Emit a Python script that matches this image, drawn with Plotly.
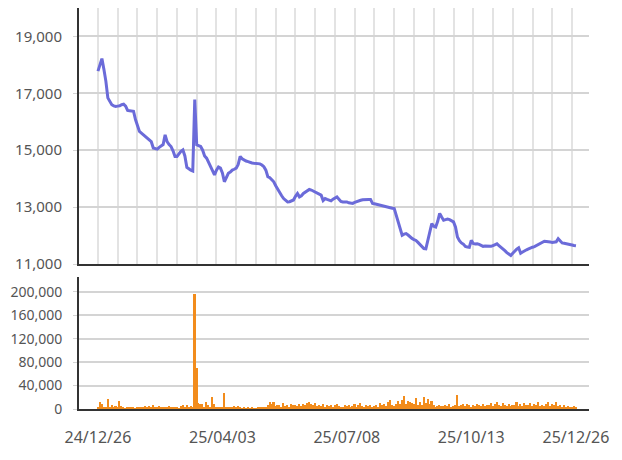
import plotly.graph_objects as go
from plotly.subplots import make_subplots

# Closing prices per trading day (index 0 = 24/12/26)
price = [
    17780, 18050, 18220, 17850, 17430, 16840, 16700, 16600, 16560, 16540,
    16550, 16560, 16600, 16620, 16550, 16400, 16390, 16380, 16370, 16080,
    15860, 15660, 15600, 15540, 15480, 15430, 15350, 15300, 15080, 15050,
    15040, 15100, 15150, 15200, 15540, 15300, 15200, 15130, 14980, 14780,
    14780, 14890, 14960, 15010, 14800, 14400, 14340, 14300, 14270, 16780,
    15190, 15160, 15130, 15000, 14800, 14720, 14560, 14420, 14300, 14130,
    14300, 14410, 14370, 14200, 13890, 14050, 14190, 14230, 14300, 14330,
    14370, 14500, 14780, 14700, 14650, 14620, 14600, 14570, 14550, 14540,
    14530, 14520, 14520, 14480, 14420, 14300, 14070, 14030, 13960, 13890,
    13750, 13620, 13480, 13400, 13300, 13230, 13180, 13190, 13230, 13250,
    13380, 13480, 13360, 13400, 13480, 13530, 13580, 13620, 13600, 13560,
    13520, 13480, 13460, 13420, 13230, 13300, 13270, 13250, 13220, 13280,
    13330, 13360, 13280, 13200, 13180, 13190, 13180, 13150, 13140, 13130,
    13170, 13200, 13220, 13240, 13260, 13270, 13280, 13270, 13270, 13130,
    13120, 13100, 13080, 13070, 13050, 13030, 13010, 12990, 12970, 12960,
    12950, 12720, 12420, 12200, 12010, 12050, 12070, 12020, 11950, 11900,
    11860, 11830, 11760, 11690, 11620, 11540, 11530, 11800, 12070, 12420,
    12330, 12300, 12500, 12780, 12650, 12540, 12560, 12580, 12560, 12520,
    12480, 12300, 11950, 11820, 11740, 11700, 11620, 11600, 11590, 11830,
    11720, 11700, 11710, 11690, 11650, 11620, 11630, 11620, 11610, 11620,
    11650, 11690, 11710, 11650, 11600, 11540, 11470, 11400, 11350, 11300,
    11380, 11470, 11520, 11570, 11380, 11420, 11470, 11500, 11530, 11570,
    11590, 11610, 11650, 11690, 11720, 11760, 11800, 11790, 11770, 11770,
    11760, 11770, 11780, 11890, 11820, 11740, 11730, 11720, 11710, 11690,
    11670, 11650, 11640,
]

volume = [
    3000, 12500, 9000, 2500, 3500, 16600, 4000, 7000, 2000, 5000,
    3500, 14000, 4500, 2000, 1500, 2500, 1800, 3000, 2200, 1500,
    2800, 4000, 2500, 3500, 5000, 2000, 4500, 3000, 6500, 2500,
    3500, 5000, 2500, 4000, 3000, 2000, 5500, 3000, 1800, 3500,
    2500, 1500, 4500, 6000, 3000, 7000, 2500, 5000, 4000, 196000,
    70000, 10500, 9000, 8500, 3000, 12000, 6000, 4000, 20000, 9000,
    2500, 3000, 3500, 2000, 27000, 4000, 3500, 2500, 3000, 4500,
    2000, 5000, 3000, 1500, 2500, 1000, 2000, 1500, 3000, 1000,
    1500, 3000, 2500, 1800, 3500, 2500, 6500, 11500, 9000, 12000,
    5500, 7500, 6000, 4000, 9500, 5000, 7000, 3500, 8500, 6000,
    7500, 4500, 8000, 5000, 9000, 7500, 10000, 12500, 8000, 6500,
    9500, 5000, 7000, 4500, 8000, 3500, 6000, 5000, 7500, 4000,
    6500, 9000, 5500, 4000, 3000, 6000, 4500, 7000, 3500, 5500,
    8500, 4000, 6000, 9500, 5000, 3500, 7000, 4500, 6000, 4000,
    5000, 7500, 3500, 10000, 6000, 8000, 4500, 11000, 15000, 7000,
    5500, 9000, 13000, 8000, 16000, 22000, 9000, 14000, 12000, 10000,
    8000, 18000, 7500, 12000, 6000, 20000, 9500, 17000, 8000, 14000,
    6000, 4000, 5500, 7000, 5000, 4500, 6000, 5500, 8000, 4000,
    5000, 7000, 24000, 4500, 6500, 9000, 5500, 8500, 6000, 4000,
    7000, 5000, 8000, 6500, 4500, 9000, 5000, 7500, 6000, 10000,
    5500, 8500, 12000, 7000, 5000, 10500, 6000, 4500, 9000, 5500,
    7500, 6000, 11000, 5000, 8000, 4500, 9500, 6000, 7000, 10000,
    5000, 8500, 6500, 12000, 5500, 7500, 4500, 8000, 11000, 5000,
    9000, 6000, 12500, 5500, 7000, 4000, 6500, 3500, 5000, 4000,
    3500, 5500, 2500,
]

day_index = list(range(len(price)))

x_tick_pos = [0, 63, 126, 189, 242]
x_tick_text = ["24/12/26", "25/04/03", "25/07/08", "25/10/13", "25/12/26"]
price_ticks = [11000, 13000, 15000, 17000, 19000]
volume_ticks = [0, 40000, 80000, 120000, 160000, 200000]

FONT = "Noto Sans"
TXT = "#555555"
AXIS = "#333333"

fig = make_subplots(rows=2, cols=1, vertical_spacing=0.0)

fig.add_trace(go.Scatter(x=day_index, y=price, mode="lines",
                         line=dict(color="#6b6bd9", width=3),
                         showlegend=False), row=1, col=1)
fig.add_trace(go.Bar(x=day_index, y=volume, marker=dict(color="#f28c1c", line=dict(width=0)),
                     width=0.8, showlegend=False), row=2, col=1)

xr = [-9.6, 248.6]
fig.update_layout(
    width=622, height=460,
    margin=dict(l=71, r=41, t=0, b=59, autoexpand=False),
    paper_bgcolor="white", plot_bgcolor="white",
    font=dict(family=FONT, size=15, color=TXT),
    bargap=0,
)
fig.update_xaxes(row=1, col=1, domain=[0, 1], range=xr, automargin=False,
                 tickmode="linear", tick0=0, dtick=10, showticklabels=False,
                 showgrid=True, gridcolor="#e3e3e3", gridwidth=1.5,
                 showline=True, linecolor=AXIS, linewidth=2, ticks="", zeroline=False)
fig.update_xaxes(row=2, col=1, range=xr, automargin=False,
                 tickmode="array", tickvals=x_tick_pos, ticktext=x_tick_text,
                 showgrid=False, showline=True, linecolor=AXIS, linewidth=2,
                 ticks="", ticklabelstandoff=13, zeroline=False,
                 tickfont=dict(family=FONT, size=16, color=TXT))
fig.update_yaxes(row=1, col=1, domain=[0.3616, 1.0], range=[11000, 20000], automargin=False,
                 tickmode="array", tickvals=price_ticks, tickformat=",",
                 showgrid=True, gridcolor="#d4d4d4", gridwidth=1.5,
                 showline=True, linecolor=AXIS, linewidth=2,
                 ticks="outside", ticklen=4, tickcolor="#d4d4d4", ticklabelstandoff=8,
                 zeroline=False, tickfont=dict(family=FONT, size=15, color=TXT))
fig.update_yaxes(row=2, col=1, domain=[0.0, 0.329], range=[0, 225000], automargin=False,
                 tickmode="array", tickvals=volume_ticks, tickformat=",",
                 showgrid=True, gridcolor="#d4d4d4", gridwidth=1.5,
                 showline=True, linecolor=AXIS, linewidth=2,
                 ticks="outside", ticklen=4, tickcolor="#d4d4d4", ticklabelstandoff=8,
                 zeroline=False, tickfont=dict(family=FONT, size=14, color=TXT))

fig.write_html("out.html")
